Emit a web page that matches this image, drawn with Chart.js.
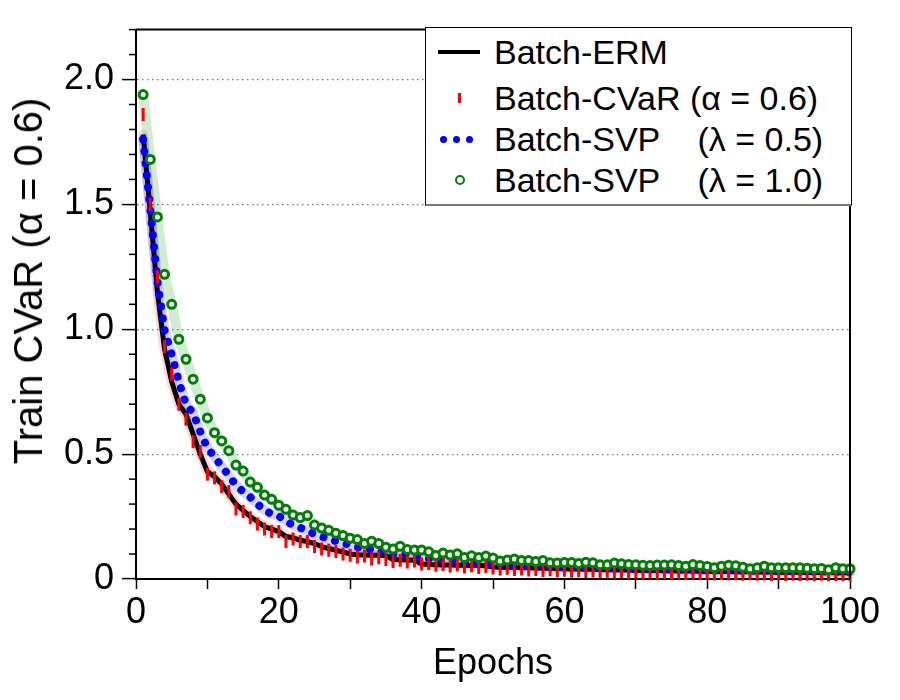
<!DOCTYPE html>
<html>
<head>
<meta charset="utf-8">
<script src="https://cdn.jsdelivr.net/npm/chart.js@4.4.1/dist/chart.umd.min.js"></script>
<style>
body{margin:0;background:#fff}
#wrap{position:relative;width:900px;height:700px}
#legend{position:absolute;left:425px;top:27px;width:427px;height:179px;background:#fff;border:1.5px solid #000;border-bottom:2.5px solid #777;box-sizing:border-box;font-family:"Liberation Sans",Arial,sans-serif;font-size:34px;color:#000}
.row{position:absolute;left:0;width:100%;height:40px;line-height:40px;white-space:pre}
.row .t{position:absolute;left:68px;top:0}
.sym{position:absolute}
#ytitle{position:absolute;left:28px;top:281px;transform:translate(-50%,-50%) rotate(-90deg);white-space:pre;font-family:"Liberation Sans",Arial,sans-serif;font-size:40px;line-height:44px;color:#000}
</style>
</head>
<body>
<div id="wrap">
<canvas id="c" width="900" height="700"></canvas>
<div id="ytitle">Train CVaR (α = 0.6)</div>
<div id="legend">
<div class="row" style="top:4px"><span class="sym" style="left:12px;top:18px;width:42px;height:4px;background:#000"></span><span class="t">Batch-ERM</span></div>
<div class="row" style="top:50px"><span class="sym" style="left:32px;top:15px;width:3px;height:10px;background:#f00"></span><span class="t">Batch-CVaR (α = 0.6)</span></div>
<div class="row" style="top:91px"><span class="sym" style="left:14px;top:17px;width:7px;height:7px;border-radius:50%;background:#00f"></span><span class="sym" style="left:27px;top:17px;width:7px;height:7px;border-radius:50%;background:#00f"></span><span class="sym" style="left:40px;top:17px;width:7px;height:7px;border-radius:50%;background:#00f"></span><span class="t">Batch-SVP    (λ = 0.5)</span></div>
<div class="row" style="top:132px"><span class="sym" style="left:29px;top:15px;width:6px;height:6px;border-radius:50%;border:2.5px solid #008000;background:#fff"></span><span class="t">Batch-SVP    (λ = 1.0)</span></div>
</div>
</div>
<script>
const FONT='"Liberation Sans", Arial, sans-serif'

const epochs=[1,2,3,4,5,6,7,8,9,10,11,12,13,14,15,16,17,18,19,20,
21,22,23,24,25,26,27,28,29,30,31,32,33,34,35,36,37,38,39,40,
41,42,43,44,45,46,47,48,49,50,51,52,53,54,55,56,57,58,59,60,
61,62,63,64,65,66,67,68,69,70,71,72,73,74,75,76,77,78,79,80,
81,82,83,84,85,86,87,88,89,90,91,92,93,94,95,96,97,98,99,100]

const ermVals=[1.78,1.47,1.15,0.92,0.79,0.70,0.66,0.58,0.50,0.43,
0.41,0.38,0.34,0.30,0.275,0.25,0.23,0.21,0.20,0.19,
0.17,0.165,0.155,0.15,0.142,0.13,0.122,0.115,0.108,0.100,
0.097,0.096,0.095,0.095,0.094,0.078,0.077,0.076,0.075,0.060,
0.058,0.057,0.056,0.056,0.055,0.055,0.054,0.054,0.053,0.048,
0.047,0.046,0.046,0.045,0.045,0.044,0.043,0.043,0.042,0.041,
0.040,0.040,0.039,0.039,0.038,0.037,0.037,0.036,0.036,0.035,
0.034,0.034,0.034,0.033,0.033,0.032,0.032,0.032,0.031,0.031,
0.030,0.030,0.030,0.029,0.029,0.029,0.028,0.028,0.028,0.027,
0.027,0.027,0.027,0.026,0.026,0.026,0.026,0.025,0.025,0.025]

const cvarVals=[1.86,1.50,1.21,0.93,0.82,0.70,0.64,0.55,0.51,0.42,
0.405,0.37,0.35,0.28,0.27,0.245,0.22,0.20,0.19,0.19,
0.15,0.16,0.15,0.15,0.13,0.12,0.115,0.11,0.10,0.095,
0.088,0.092,0.080,0.085,0.078,0.070,0.075,0.068,0.072,0.060,
0.062,0.055,0.058,0.052,0.056,0.048,0.053,0.046,0.050,0.044,
0.040,0.043,0.038,0.040,0.036,0.038,0.034,0.037,0.033,0.035,
0.031,0.033,0.030,0.032,0.029,0.031,0.027,0.030,0.026,0.028,
0.025,0.027,0.024,0.026,0.023,0.025,0.022,0.024,0.021,0.023,
0.020,0.022,0.020,0.021,0.019,0.021,0.019,0.020,0.018,0.020,
0.018,0.019,0.018,0.019,0.017,0.019,0.017,0.018,0.017,0.018]

const svp05Vals=[1.76,1.48,1.19,0.995,0.90,0.79,0.70,0.665,0.59,0.525,
0.49,0.45,0.415,0.375,0.35,0.328,0.30,0.275,0.26,0.252,
0.232,0.215,0.205,0.193,0.180,0.170,0.160,0.152,0.145,0.135,
0.127,0.123,0.118,0.113,0.105,0.100,0.097,0.098,0.092,0.086,
0.082,0.078,0.076,0.074,0.072,0.069,0.067,0.065,0.063,0.061,
0.058,0.057,0.056,0.055,0.054,0.052,0.051,0.050,0.049,0.048,
0.047,0.046,0.046,0.045,0.044,0.043,0.043,0.042,0.042,0.041,
0.040,0.040,0.039,0.039,0.038,0.038,0.037,0.037,0.036,0.036,
0.035,0.035,0.035,0.034,0.034,0.033,0.033,0.033,0.032,0.032,
0.032,0.031,0.031,0.031,0.030,0.030,0.030,0.029,0.029,0.029]

const svp10Vals=[1.94,1.68,1.45,1.22,1.10,0.96,0.88,0.80,0.72,0.645,
0.586,0.553,0.514,0.456,0.432,0.388,0.367,0.336,0.319,0.295,
0.279,0.256,0.246,0.254,0.216,0.204,0.195,0.183,0.174,0.163,
0.158,0.142,0.151,0.142,0.127,0.120,0.131,0.118,0.116,0.116,
0.109,0.094,0.104,0.096,0.101,0.086,0.093,0.086,0.092,0.084,
0.072,0.076,0.080,0.074,0.074,0.070,0.074,0.065,0.064,0.066,
0.066,0.062,0.067,0.065,0.057,0.057,0.064,0.061,0.058,0.057,
0.055,0.054,0.056,0.056,0.057,0.054,0.051,0.058,0.054,0.050,
0.045,0.051,0.055,0.053,0.047,0.041,0.045,0.051,0.045,0.045,
0.045,0.045,0.045,0.043,0.041,0.042,0.037,0.045,0.041,0.041]

const xTicks=[0,10,20,30,40,50,60,70,80,90,100]
const yTicks=[0,0.5,1.0,1.5,2.0]
const yMinorTicks=[0.1,0.2,0.3,0.4,0.6,0.7,0.8,0.9,1.1,1.2,1.3,1.4,1.6,1.7,1.8,1.9,2.1,2.2]

const framePlugin={
id:'frame',
afterDraw(chart){
const {ctx,chartArea:a,scales:{y}}=chart
ctx.save()
ctx.strokeStyle='#000'
ctx.lineWidth=2
ctx.beginPath()
ctx.moveTo(a.left,a.top)
ctx.lineTo(a.right,a.top)
ctx.lineTo(a.right,a.bottom)
ctx.stroke()
ctx.lineWidth=1.5
yMinorTicks.forEach(v=>{
const p=y.getPixelForValue(v)
ctx.beginPath()
ctx.moveTo(a.left-7,p)
ctx.lineTo(a.left,p)
ctx.stroke()
})
ctx.restore()
}
}

function band(data,color,order){
return {data:data,borderColor:color,borderWidth:10,pointRadius:0,fill:false,
borderJoinStyle:'round',borderCapStyle:'round',order:order,clip:false}
}

new Chart(document.getElementById('c'),{
type:'line',
data:{
labels:epochs,
datasets:[
{data:svp10Vals,showLine:false,pointStyle:'circle',pointRadius:4,pointBorderWidth:3,
pointBorderColor:'#008000',pointBackgroundColor:'#fff',order:0,clip:false},
{data:cvarVals,showLine:false,pointStyle:'line',rotation:90,pointRadius:6.5,pointBorderWidth:3,
pointBorderColor:'#f00',order:1,clip:false},
{data:svp05Vals,borderColor:'#00f',borderWidth:8,borderDash:[0.01,12],borderCapStyle:'round',
pointRadius:0,fill:false,order:2,clip:false},
{data:ermVals,borderColor:'#000',borderWidth:5,pointRadius:0,fill:false,order:3,clip:false},
band(svp10Vals,'rgba(0,150,0,0.18)',4),
band(svp05Vals,'rgba(0,0,255,0.16)',5),
band(ermVals,'rgba(255,0,0,0.16)',6)
]
},
options:{
responsive:false,
devicePixelRatio:1,
animation:false,
layout:{padding:{top:27,right:50,left:0,bottom:0}},
plugins:{legend:{display:false},tooltip:{enabled:false}},
scales:{
x:{type:'linear',min:0,max:100,
afterBuildTicks(s){s.ticks=xTicks.map(v=>({value:v}))},
afterFit(s){s.height=121},
grid:{drawOnChartArea:false,tickLength:10,tickColor:'#000',tickWidth:1.5},
border:{color:'#000',width:2},
ticks:{autoSkip:false,maxRotation:0,padding:2,color:'#000',font:{family:FONT,size:36},
callback:v=>v%20===0?String(v):''},
title:{display:true,text:'Epochs',color:'#000',font:{family:FONT,size:36},padding:{top:0,bottom:14}}
},
y:{min:0,max:2.2,
afterBuildTicks(s){s.ticks=yTicks.map(v=>({value:v}))},
afterFit(s){s.width=136},
grid:{color:c=>(c.tick&&c.tick.value===0)?'rgba(0,0,0,0)':'#777',lineWidth:1.2,tickLength:14,
tickColor:'#000',tickWidth:1.5,tickBorderDash:[]},
border:{color:'#000',width:2,dash:[1.5,3.5]},
ticks:{padding:8,color:'#000',font:{family:FONT,size:36},callback:v=>v===0?'0':v.toFixed(1)}
}
}
},
plugins:[framePlugin]
})
</script>
</body>
</html>
